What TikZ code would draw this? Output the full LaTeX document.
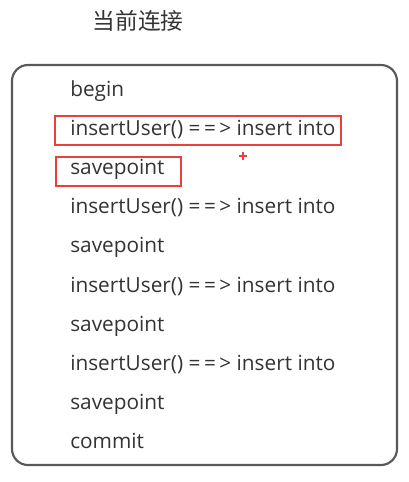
\documentclass[tikz,border=0pt]{standalone}
\usepackage{fontspec}
\setmainfont{Open Sans}
\newfontfamily\cjk{Noto Sans CJK SC}
\definecolor{hl}{HTML}{E8403A}
\newcommand{\arr}{=\kern2.6pt=\kern2.6pt>}
\begin{document}
\begin{tikzpicture}[x=0.75pt,y=-0.75pt,
  line/.style={anchor=base west,inner sep=0pt,text=black!80,font=\fontsize{15.6}{18}\selectfont},
  redbox/.style={draw=hl,line width=1.2pt}]
\useasboundingbox (0,0) rectangle (409,482);
\node[font=\cjk\fontsize{17}{20}\selectfont,text=black!80,anchor=center] (title) at (138,21) {当前连接};
\draw[draw=black!65,line width=1.6pt,rounded corners=12pt] (12,65) rectangle (397,465);
\foreach \t [count=\i] in {begin,insertUser() \arr{} insert into,savepoint,insertUser() \arr{} insert into,savepoint,insertUser() \arr{} insert into,savepoint,insertUser() \arr{} insert into,savepoint,commit}
  \node[line] (l\i) at (70,{89+7+(\i-1)*39.2}) {\t};
\draw[redbox] (55,116) rectangle (341,145);
\draw[redbox] (56,157) rectangle (181,186);
\draw[hl,line width=1pt] (239,156) -- (247,156) (243,152) -- (243,160);
\end{tikzpicture}
\end{document}
